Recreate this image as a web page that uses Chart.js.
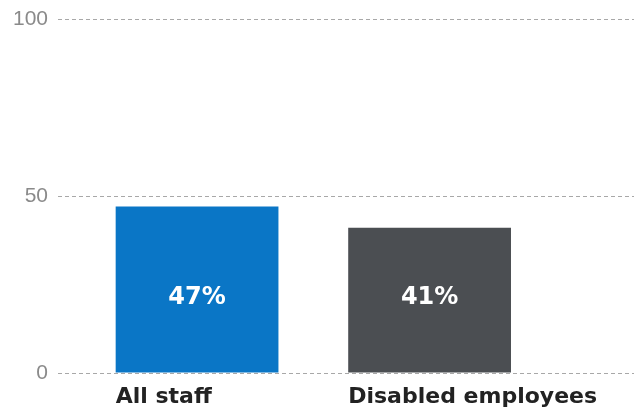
<!DOCTYPE html>
<html>
<head>
<meta charset="utf-8">
<script src="https://cdn.jsdelivr.net/npm/chart.js@4/dist/chart.umd.min.js"></script>
<style>
    html, body { margin: 0; padding: 0; background: #fff; }
    #wrap { width: 634px; height: 410px; }
</style>
</head>
<body>
<div id="wrap"><canvas id="chart"></canvas></div>
<script>
const categories = ["All staff", "Disabled employees"];
const shares = [47, 41];
const yTicks = [0, 50, 100];

const barColors = ["#0a76c6", "#4b4e52"];

// white % label near the foot of each bar, category name under it (left aligned to the bar)
const barLabels = {
    id: "barLabels",
    afterDatasetsDraw(chart) {
        const ctx = chart.ctx;
        const meta = chart.getDatasetMeta(0);
        ctx.save();
        meta.data.forEach((bar, i) => {
            ctx.fillStyle = "#fff";
            ctx.font = "bold 24px 'DejaVu Sans'";
            ctx.textAlign = "center";
            ctx.textBaseline = "middle";
            ctx.fillText(`${shares[i]}%`, bar.x, bar.base - 75);

            ctx.fillStyle = "#222";
            ctx.font = "bold 22px 'DejaVu Sans'";
            ctx.textAlign = "left";
            ctx.textBaseline = "alphabetic";
            ctx.fillText(categories[i], bar.x - bar.width / 2, bar.base + 30);
        });
        ctx.restore();
    },
};

new Chart(document.getElementById("chart"), {
    type: "bar",
    data: {
        datasets: [{
            data: shares.map((v, i) => ({ x: i, y: v })),
            backgroundColor: barColors,
            categoryPercentage: 1,
            barPercentage: 0.7,
        }],
    },
    options: {
        responsive: true,
        maintainAspectRatio: false,
        animation: false,
        layout: { padding: { top: 19, right: -4 } },
        plugins: { legend: { display: false }, tooltip: { enabled: false } },
        scales: {
            x: {
                type: "linear",
                min: -0.598,
                max: 1.879,
                offset: false,
                afterBuildTicks: (scale) => {
                    scale.ticks = categories.map((c, i) => ({ value: i }));
                },
                grid: { display: false },
                border: { display: false },
                ticks: { display: false },
                afterFit: (scale) => { scale.height = 37; },
            },
            y: {
                min: 0,
                max: 100,
                afterBuildTicks: (scale) => {
                    scale.ticks = yTicks.map((v) => ({ value: v }));
                },
                afterFit: (scale) => {
                    scale.width = 58;
                    scale.paddingTop = 0;
                    scale.paddingBottom = 0;
                },
                grid: { color: "#a8a8a8", lineWidth: 1, drawTicks: false },
                border: { display: false, dash: [4, 3] },
                ticks: {
                    padding: 10,
                    color: "#8a8a8a",
                    font: { family: "'Liberation Sans'", size: 21 },
                },
            },
        },
    },
    plugins: [barLabels],
});
</script>
</body>
</html>
